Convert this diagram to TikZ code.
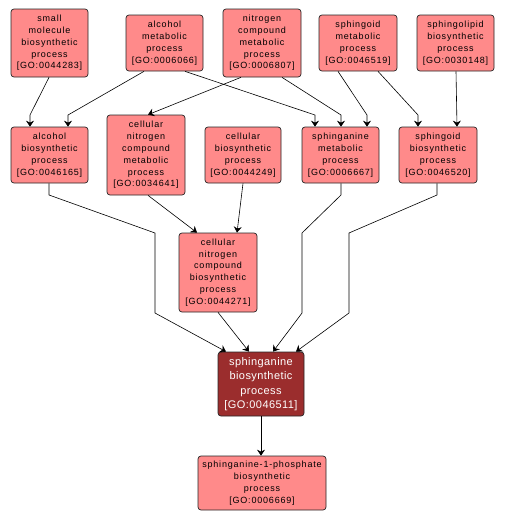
\documentclass[tikz,border=0pt]{standalone}
\usepackage{fontspec}
\setmainfont{Liberation Sans}
\usetikzlibrary{arrows.meta,calc}
\definecolor{boxfill}{HTML}{FF8A8A}
\definecolor{darkfill}{HTML}{9B2D2D}
\tikzset{
  gobox/.style={draw=black!85, line width=0.7pt, rounded corners=3pt, fill=boxfill, align=center, inner sep=0pt,
    font={\addfontfeature{LetterSpace=9}\fontsize{9}{11.8}\selectfont}, text=black},
  darkbox/.style={gobox, fill=darkfill, text=white,
    font={\addfontfeature{LetterSpace=4}\fontsize{11}{14.5}\selectfont}},
  arr/.style={draw=black, line width=0.6pt, -{Stealth[length=6pt,width=8pt,inset=2pt]}}
}
\begin{document}
\begin{tikzpicture}[x=1pt,y=-1pt]
\useasboundingbox (0,0) rectangle (505,522);
\node[gobox, minimum width=77pt, minimum height=68pt] (small) at (49.5,43) {small\\molecule\\biosynthetic\\process\\{[GO:0044283]}};
\node[gobox, minimum width=77pt, minimum height=56pt] (alcmet) at (164.5,43) {alcohol\\metabolic\\process\\{[GO:0006066]}};
\node[gobox, minimum width=78pt, minimum height=68pt] (nitmet) at (262,43) {nitrogen\\compound\\metabolic\\process\\{[GO:0006807]}};
\node[gobox, minimum width=78pt, minimum height=56pt] (sphmet) at (358,43) {sphingoid\\metabolic\\process\\{[GO:0046519]}};
\node[gobox, minimum width=77pt, minimum height=56pt] (sphlip) at (455.5,43) {sphingolipid\\biosynthetic\\process\\{[GO:0030148]}};
\node[gobox, minimum width=77pt, minimum height=56pt] (alcbio) at (49.5,155) {alcohol\\biosynthetic\\process\\{[GO:0046165]}};
\node[gobox, minimum width=78pt, minimum height=80pt] (cncmet) at (146,155) {cellular\\nitrogen\\compound\\metabolic\\process\\{[GO:0034641]}};
\node[gobox, minimum width=76pt, minimum height=56pt] (cellbio) at (243,155) {cellular\\biosynthetic\\process\\{[GO:0044249]}};
\node[gobox, minimum width=77pt, minimum height=56pt] (sphanmet) at (340.5,155) {sphinganine\\metabolic\\process\\{[GO:0006667]}};
\node[gobox, minimum width=78pt, minimum height=56pt] (sphbio) at (438,155) {sphingoid\\biosynthetic\\process\\{[GO:0046520]}};
\node[gobox, minimum width=78pt, minimum height=79pt] (cncbio) at (218,272.5) {cellular\\nitrogen\\compound\\biosynthetic\\process\\{[GO:0044271]}};
\node[darkbox, minimum width=86pt, minimum height=64pt] (target) at (261,384) {sphinganine\\biosynthetic\\process\\{[GO:0046511]}};
\node[gobox, minimum width=128pt, minimum height=54pt] (s1p) at (262,483) {sphinganine-1-phosphate\\biosynthetic\\process\\{[GO:0006669]}};
% connectors
\draw[arr] ($(small.south)+(-0.5,0)$) -- (30,115) -- ($(alcbio.north)+(-19.5,0)$);
\draw[arr] ($(alcmet.south)+(-20.5,0)$) -- (68,115) -- ($(alcbio.north)+(18.5,0)$);
\draw[arr] ($(alcmet.south)+(20.5,0)$) -- (315,115) -- ($(sphanmet.north)+(-25.5,0)$);
\draw[arr] ($(nitmet.south)+(-21,0)$) -- ($(cncmet.north)+(2,0)$);
\draw[arr] ($(nitmet.south)+(20,0)$) -- (341,115) -- ($(sphanmet.north)+(0.5,0)$);
\draw[arr] ($(sphmet.south)+(-20,0)$) -- (367,115) -- ($(sphanmet.north)+(26.5,0)$);
\draw[arr] ($(sphmet.south)+(20,0)$) -- (418,115) -- ($(sphbio.north)+(-20,0)$);
\draw[arr] ($(sphlip.south)+(0.5,0)$) -- ($(sphbio.north)+(19,0)$);
\draw[arr] ($(alcbio.south)+(-0.5,0)$) -- (49,195) -- (155,233) -- (155,313) -- ($(target.north)+(-35,0)$);
\draw[arr] ($(cncmet.south)+(2,0)$) -- ($(cncbio.north)+(-21,0)$);
\draw[arr] (cellbio.south) -- ($(cncbio.north)+(19,0)$);
\draw[arr] (cncbio.south) -- ($(target.north)+(-12,0)$);
\draw[arr] ($(sphanmet.south)+(0.5,0)$) -- (341,195) -- (302,233) -- (302,313) -- ($(target.north)+(12,0)$);
\draw[arr] ($(sphbio.south)+(-1,0)$) -- (437,195) -- (349,233) -- (349,313) -- ($(target.north)+(35,0)$);
\draw[arr] (target.south) -- ($(s1p.north)+(-1,0)$);
\end{tikzpicture}
\end{document}
